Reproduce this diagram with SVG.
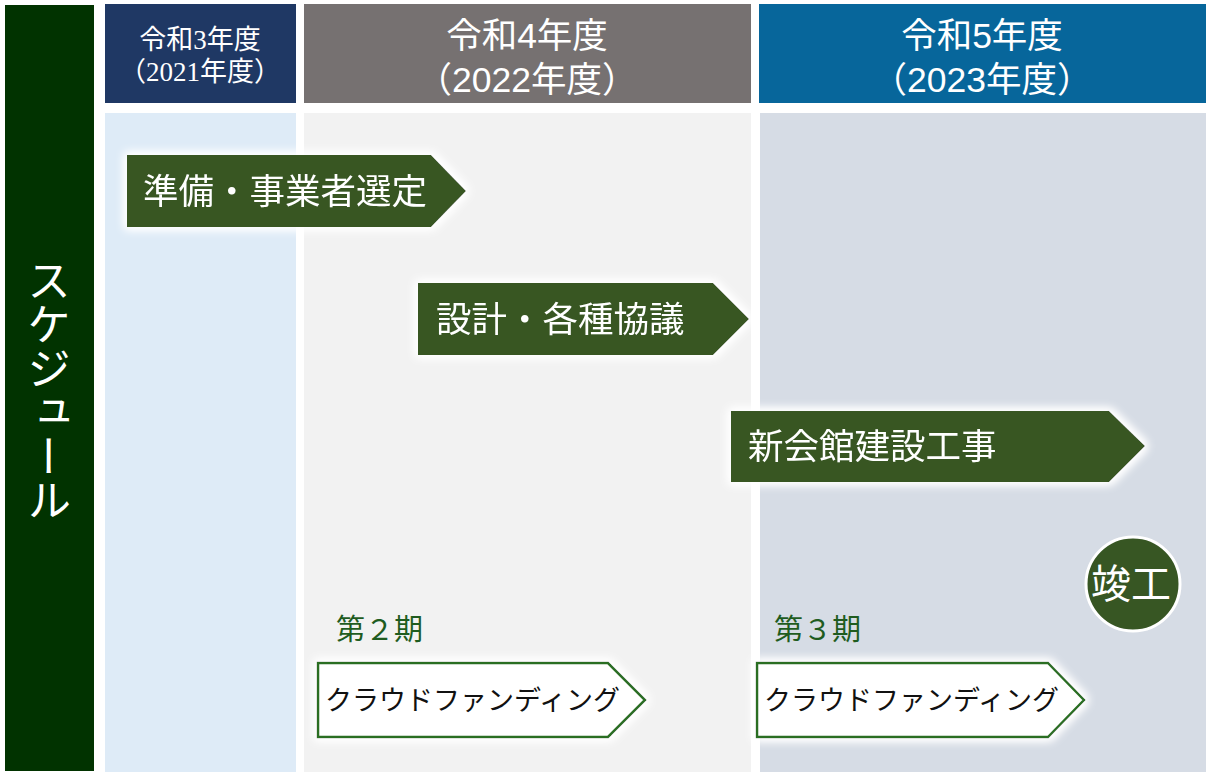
<svg xmlns="http://www.w3.org/2000/svg" width="1217" height="783" viewBox="0 0 1217 783">
<defs>
<style>
text{font-family:"Noto Sans CJK JP","Noto Sans",sans-serif}
.hd{fill:#ffffff;text-anchor:middle;font-family:"Liberation Sans","Noto Sans CJK JP",sans-serif}
.hd1{fill:#ffffff;text-anchor:middle;font-family:"Liberation Serif","Noto Sans CJK JP",serif}
.bar{fill:#375623}
.bt{fill:#ffffff;font-size:35.5px}
.cf{fill:#ffffff;stroke:#2a6e24;stroke-width:2.5}
.cft{fill:#111111;font-size:27px}
.ki{fill:#1f5c1f;font-size:29px}
</style>
<filter id="glow" x="-10%" y="-40%" width="120%" height="180%">
<feMorphology in="SourceAlpha" operator="dilate" radius="2" result="d"/>
<feGaussianBlur in="d" stdDeviation="5" result="b"/>
<feFlood flood-color="#ffffff" result="f"/>
<feComposite in="f" in2="b" operator="in" result="g"/>
<feMerge><feMergeNode in="g"/><feMergeNode in="g"/><feMergeNode in="SourceGraphic"/></feMerge>
</filter>
</defs>
<rect width="1217" height="783" fill="#ffffff"/>

<g id="side-label">
<rect x="5" y="5" width="89" height="766" fill="#013300"/>
<text x="49" y="258" writing-mode="vertical-rl" fill="#ffffff" font-size="44">スケジュール</text>
</g>

<g id="col-2021">
<rect x="105" y="4" width="191" height="99" fill="#1f3864"/>
<text class="hd1" x="200" y="49" font-size="27">令和3年度</text>
<text class="hd1" x="200" y="81" font-size="27">（2021年度）</text>
<rect x="105" y="113" width="191" height="659" fill="#deebf7"/>
</g>

<g id="col-2022">
<rect x="304" y="4" width="447" height="99" fill="#767171"/>
<text class="hd" x="527" y="48" font-size="35.5">令和4年度</text>
<text class="hd" x="527" y="92" font-size="35.5">（2022年度）</text>
<rect x="304" y="113" width="447" height="659" fill="#f2f2f2"/>
</g>

<g id="col-2023">
<rect x="759" y="4" width="447" height="99" fill="#07669b"/>
<text class="hd" x="982" y="48" font-size="35.5">令和5年度</text>
<text class="hd" x="982" y="92" font-size="35.5">（2023年度）</text>
<rect x="760" y="113" width="446" height="659" fill="#d6dce5"/>
</g>

<g id="connectors"/>

<g id="task-prep" filter="url(#glow)">
<polygon class="bar" points="127,155 431,155 466,191 431,227 127,227"/>
<text class="bt" x="143" y="204">準備・事業者選定</text>
</g>

<g id="task-design" filter="url(#glow)">
<polygon class="bar" points="418,283 713,283 749,319 713,355 418,355"/>
<text class="bt" x="436" y="332">設計・各種協議</text>
</g>

<g id="task-construction" filter="url(#glow)">
<polygon class="bar" points="731,411 1109,411 1145,446 1109,482 731,482"/>
<text class="bt" x="748" y="459">新会館建設工事</text>
</g>

<g id="milestone-completion">
<circle cx="1133" cy="584" r="47" fill="#375623" stroke="#ffffff" stroke-width="3"/>
<text x="1131" y="598" fill="#ffffff" font-size="40" text-anchor="middle">竣工</text>
</g>

<g id="cf-phase2">
<text class="ki" x="336" y="640">第２期</text>
<g filter="url(#glow)">
<polygon class="cf" points="318,663 608,663 645,700 608,737 318,737"/>
</g>
<text class="cft" x="325" y="710">クラウドファンディング</text>
</g>

<g id="cf-phase3">
<text class="ki" x="774" y="640">第３期</text>
<g filter="url(#glow)">
<polygon class="cf" points="757,663 1048,663 1084,700 1048,737 757,737"/>
</g>
<text class="cft" x="764" y="710">クラウドファンディング</text>
</g>
</svg>
